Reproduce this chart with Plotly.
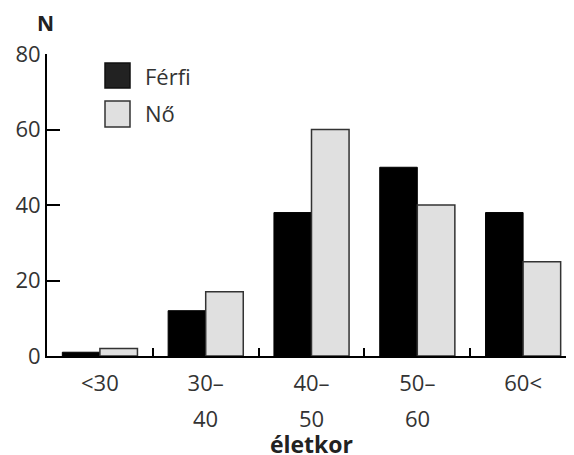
import plotly.graph_objects as go

categories = ["<30", "30–40", "40–50", "50–60", "60<"]
label_line1 = ["<30", "30–", "40–", "50–", "60<"]
label_line2 = ["", "40", "50", "60", ""]
ferfi = [1, 12, 38, 50, 38]
no = [2, 17, 60, 40, 25]
y_ticks = [0, 20, 40, 60, 80]

FONT = "Open Sans"
TXT = "#333333"
FS = 22

fig = go.Figure()
fig.add_trace(go.Bar(x=categories, y=ferfi, name="Férfi",
                     marker=dict(color="#000000", line=dict(color="#000000", width=1))))
fig.add_trace(go.Bar(x=categories, y=no, name="Nő",
                     marker=dict(color="#e0e0e0", line=dict(color="#333333", width=1.5))))

fig.update_layout(
    width=574, height=455,
    margin=dict(l=39, r=6, t=46, b=107),
    plot_bgcolor="white", paper_bgcolor="white",
    barmode="group", bargap=0.29, bargroupgap=0,
    showlegend=False,
    font=dict(family=FONT, size=FS, color=TXT),
)
fig.update_xaxes(
    range=[-0.5, 4.5], showline=True, linecolor="black", linewidth=2,
    ticks="inside", tickson="boundaries", ticklen=8, tickwidth=2, tickcolor="black",
    showgrid=False, zeroline=False,
    tickvals=categories, ticktext=label_line1, ticklabelstandoff=7,
    tickfont=dict(family=FONT, size=FS, color=TXT),
    title=dict(text="<b>életkor</b>", font=dict(family=FONT, size=23, color="#222222"), standoff=40),
)
fig.update_yaxes(
    range=[0, 80], tickvals=y_ticks, showline=True, linecolor="black", linewidth=2,
    ticks="inside", ticklen=13, tickwidth=2, tickcolor="black",
    showgrid=False, zeroline=False,
    tickfont=dict(family=FONT, size=FS, color=TXT),
)

PW = 529.0
PH = 302.0
def px(X):
    return (X - 47) / PW
def py(Y):
    return (356 - Y) / PH

# second line of the two-line category labels (wider line spacing than Plotly's <br>)
for cat, txt in zip(categories, label_line2):
    if txt:
        fig.add_annotation(text=txt, xref="x", yref="paper", x=cat, y=py(418),
                           xanchor="center", yanchor="middle", showarrow=False,
                           font=dict(family=FONT, size=FS, color=TXT))

# Legend drawn manually with large swatches
fig.add_shape(type="rect", xref="paper", yref="paper",
              x0=px(105), x1=px(130), y0=py(88), y1=py(63),
              fillcolor="#222222", line=dict(color="#111111", width=1.5))
fig.add_shape(type="rect", xref="paper", yref="paper",
              x0=px(105), x1=px(130), y0=py(127), y1=py(101),
              fillcolor="#e0e0e0", line=dict(color="#333333", width=1.5))
fig.add_annotation(text="Férfi", xref="paper", yref="paper", x=px(143), y=py(76),
                   xanchor="left", yanchor="middle", showarrow=False,
                   font=dict(family=FONT, size=FS, color=TXT))
fig.add_annotation(text="Nő", xref="paper", yref="paper", x=px(143), y=py(113),
                   xanchor="left", yanchor="middle", showarrow=False,
                   font=dict(family=FONT, size=FS, color=TXT))
fig.add_annotation(text="<b>N</b>", xref="paper", yref="paper", x=px(45), y=py(23),
                   xanchor="center", yanchor="middle", showarrow=False,
                   font=dict(family=FONT, size=21, color="#222222"))

fig.write_html("out.html")
